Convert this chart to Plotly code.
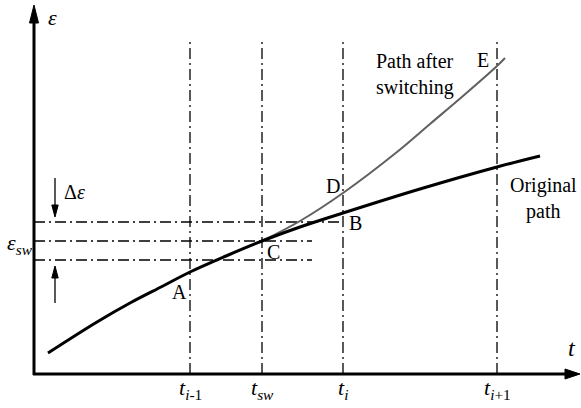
import plotly.graph_objects as go

# ---- data (schematic units: t horizontal, epsilon vertical, origin at axes crossing)
t_ticks = [156, 228, 309, 463]
t_tick_labels = ["<i>t</i><sub><i>i</i>-1</sub>", "<i>t</i><sub><i>sw</i></sub>",
                 "<i>t</i><sub><i>i</i></sub>", "<i>t</i><sub><i>i</i>+1</sub>"]
eps_sw = 133
eps_upper = 152
eps_lower = 114

orig_t = [14, 63, 96, 129, 156, 192, 228, 266, 309, 386, 463, 506]
orig_eps = [21, 52, 71, 88, 102, 118, 133, 147, 161, 185, 207, 218]

switch_t = [228, 266, 309, 363, 396, 429, 463, 471]
switch_eps = [133, 153, 181, 222, 250, 278, 308, 316]

t_axis_end = 546
eps_axis_end = 369
vline_top = 336
hline_short_end = 278
hline_long_end = 309

point_labels = ["A", "C", "B", "D", "E"]
point_t = [145, 239, 321, 299, 449]
point_eps = [82, 122, 151, 188, 314]

FONT = "'Liberation Serif', 'DejaVu Serif', serif"
DASHDOT = "11px,4px,2px,4px"

fig = go.Figure()

def line(x, y, color="black", width=1.3, dash=None, shape="linear"):
    fig.add_trace(go.Scatter(x=x, y=y, mode="lines",
                             line=dict(color=color, width=width, dash=dash, shape=shape),
                             hoverinfo="skip", showlegend=False))

def head(tip_x, tip_y, direction, length, half):
    if direction == "up":
        xs = [tip_x, tip_x - half, tip_x + half, tip_x]
        ys = [tip_y, tip_y - length, tip_y - length, tip_y]
    elif direction == "down":
        xs = [tip_x, tip_x - half, tip_x + half, tip_x]
        ys = [tip_y, tip_y + length, tip_y + length, tip_y]
    else:
        xs = [tip_x, tip_x - length, tip_x - length, tip_x]
        ys = [tip_y, tip_y - half, tip_y + half, tip_y]
    fig.add_trace(go.Scatter(x=xs, y=ys, mode="lines", fill="toself",
                             fillcolor="black", line=dict(color="black", width=1),
                             hoverinfo="skip", showlegend=False))

# vertical dash-dot lines
for tv in t_ticks:
    line([tv, tv], [0, vline_top], dash=DASHDOT)

# horizontal dash-dot lines
line([0, hline_long_end], [eps_upper, eps_upper], dash=DASHDOT)
line([0, hline_short_end], [eps_sw, eps_sw], dash=DASHDOT)
line([0, hline_short_end], [eps_lower, eps_lower], dash=DASHDOT)

# curves
line(switch_t, switch_eps, color="#606060", width=2, shape="spline")
line(orig_t, orig_eps, color="black", width=3, shape="spline")

# axes
line([0, 0], [-1, eps_axis_end - 10], width=3)
line([-1, t_axis_end - 10], [0, 0], width=3)
head(0, eps_axis_end, "up", 18, 4.5)
head(t_axis_end, 0, "right", 15, 5)

# delta-epsilon arrows
line([21, 21], [196, eps_upper + 8], width=1.3)
head(21, eps_upper + 5, "down", 12, 3.2)
line([21, 21], [71, eps_lower - 8], width=1.3)
head(21, eps_lower - 6, "up", 12, 3.2)

anns = []
def text(x, y, s, size=20, **kw):
    anns.append(dict(x=x, y=y, xref="x", yref="y", text=s, showarrow=False,
                     font=dict(family=FONT, size=size, color="black"), **kw))

for tv, lab in zip(t_ticks, t_tick_labels):
    text(tv, -15, lab, size=22)

text(18, 357, "<i>ε</i>", size=22)
text(538, 26, "<i>t</i>", size=24)
text(-14, 130, "<i>ε</i><sub><i>sw</i></sub>", size=22)
text(40, 182, "Δ<i>ε</i>", size=20)
for lab, px, py in zip(point_labels, point_t, point_eps):
    text(px, py, lab, size=20)
text(381, 300, "Path after<br>switching", size=20, align="left")
text(509, 176, "Original<br>path", size=20, align="center")

fig.update_layout(
    width=581, height=408,
    margin=dict(l=0, r=0, t=0, b=0),
    paper_bgcolor="white", plot_bgcolor="white",
    font=dict(family=FONT, size=20, color="black"),
    xaxis=dict(range=[-34, 547], visible=False, fixedrange=True),
    yaxis=dict(range=[-34, 374], visible=False, fixedrange=True),
    annotations=anns,
    showlegend=False,
)

fig.write_html("out.html", config={"displayModeBar": False},
               post_script="document.body.style.margin='0';document.body.style.overflow='hidden';")
